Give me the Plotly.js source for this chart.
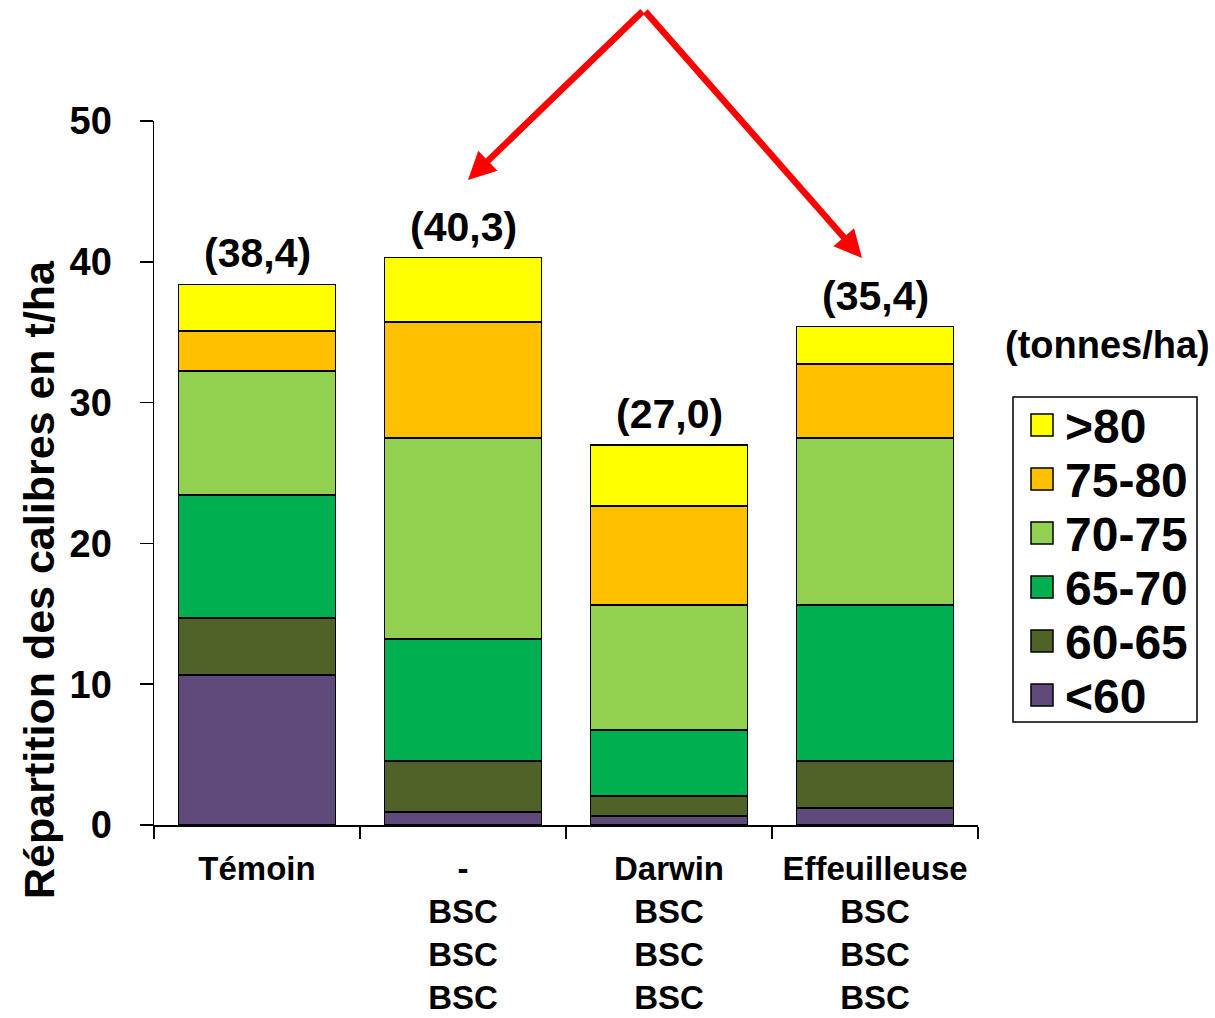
<!DOCTYPE html>
<html>
<head>
<meta charset="utf-8">
<script src="https://cdn.plot.ly/plotly-3.0.1.min.js"></script>
<style>html,body{margin:0;padding:0;background:#fff;}#chart{width:1215px;height:1018px;}</style>
</head>
<body>
<div id="chart"></div>
<script>
// ---- data ----
const categories = ["Témoin", "-<br>BSC<br>BSC<br>BSC", "Darwin<br>BSC<br>BSC<br>BSC", "Effeuilleuse<br>BSC<br>BSC<br>BSC"];
const seriesNames = ["<60", "60-65", "65-70", "70-75", "75-80", ">80"];
const lt60   = [10.65, 0.92, 0.64, 1.21];
const s60_65 = [4.05, 3.62, 1.42, 3.34];
const s65_70 = [8.74, 8.67, 4.69, 11.08];
const s70_75 = [8.80, 14.27, 8.88, 11.86];
const s75_80 = [2.85, 8.24, 7.03, 5.25];
const gt80   = [3.31, 4.58, 4.34, 2.66];
const totals = [38.4, 40.3, 27.0, 35.4];
const yTicks = [0, 10, 20, 30, 40, 50];
const colors = ["#604A7B", "#4F6228", "#00B050", "#92D050", "#FFC000", "#FFFF00"];
const yTitle = "Répartition des calibres en t/ha";
const unitLabel = "(tonnes/ha)";

const seriesValues = [lt60, s60_65, s65_70, s70_75, s75_80, gt80];
const FONT = "Liberation Sans, Arial, Helvetica, sans-serif";

const traces = seriesNames.map((n, i) => ({
  type: "bar",
  name: n,
  x: categories,
  y: seriesValues[i],
  marker: {color: colors[i], line: {color: "#000", width: 1.5}},
  showlegend: false,
  hoverinfo: "y+name"
}));

// plot area geometry (pixels) used to place paper-referenced decorations
const W = 1215, H = 1018;
const M = {l: 154, r: 237, t: 121, b: 193};
const PW = W - M.l - M.r, PH = H - M.t - M.b;
const px = x => (x - M.l) / PW;
const py = y => (H - M.b - y) / PH;

const annotations = [];
// totals above bars
totals.forEach((t, i) => {
  annotations.push({
    x: categories[i], y: t, xref: "x", yref: "y",
    text: "(" + t.toFixed(1).replace(".", ",") + ")",
    showarrow: false, yanchor: "middle", yshift: 31,
    font: {family: FONT, size: 41, color: "#000", weight: "bold"}
  });
});
// y-axis title
annotations.push({
  x: px(39), y: py(580), xref: "paper", yref: "paper",
  text: yTitle, textangle: -90, showarrow: false,
  xanchor: "center", yanchor: "middle",
  font: {family: FONT, size: 43, color: "#000", weight: "bold"}
});
// unit label
annotations.push({
  x: px(1107), y: py(345), xref: "paper", yref: "paper",
  text: unitLabel, showarrow: false, xanchor: "center", yanchor: "middle",
  font: {family: FONT, size: 38, color: "#000", weight: "bold"}
});
// red arrows
const apex = [644, 10];
[[468, 180], [862, 258]].forEach(tip => {
  annotations.push({
    x: px(tip[0]), y: py(tip[1]), xref: "paper", yref: "paper",
    ax: apex[0] - tip[0], ay: apex[1] - tip[1],
    text: "", showarrow: true, arrowhead: 2, arrowsize: 0.85,
    arrowwidth: 6.5, arrowcolor: "#FF0000", standoff: 0
  });
});

// custom legend
const shapes = [{
  type: "rect", xref: "paper", yref: "paper",
  x0: px(1013), x1: px(1197), y0: py(397), y1: py(722),
  line: {color: "#000", width: 1.5}, fillcolor: "rgba(0,0,0,0)"
}];
const order = seriesNames.map((_, i) => seriesNames.length - 1 - i);
order.forEach((si, k) => {
  const cy = 425 + 54 * k;
  shapes.push({
    type: "rect", xref: "paper", yref: "paper",
    x0: px(1031), x1: px(1053), y0: py(cy + 11), y1: py(cy - 11),
    line: {color: "#000", width: 1.5}, fillcolor: colors[si]
  });
  annotations.push({
    x: px(1063), y: py(cy + 1), xref: "paper", yref: "paper",
    text: seriesNames[si].replace("<", "&lt;").replace(">", "&gt;"),
    showarrow: false, xanchor: "left", yanchor: "middle",
    font: {family: FONT, size: 48, color: "#000", weight: "bold"}
  });
});

const layout = {
  width: W, height: H,
  margin: M,
  paper_bgcolor: "#fff", plot_bgcolor: "#fff",
  barmode: "stack", bargap: 0.24,
  showlegend: false,
  font: {family: FONT, color: "#000"},
  xaxis: {
    type: "category", range: [-0.5, 3.5],
    showline: true, linecolor: "#000", linewidth: 1.5,
    ticks: "outside", tickson: "boundaries", ticklen: 12, tickwidth: 1.5, tickcolor: "#000",
    showgrid: false, zeroline: false,
    tickfont: {family: FONT, size: 33, color: "#000", weight: "bold"},
    ticklabelstandoff: 14
  },
  yaxis: {
    range: [0, 50], tickvals: yTicks,
    showline: true, linecolor: "#000", linewidth: 1.5,
    ticks: "outside", ticklen: 13, tickwidth: 1.5, tickcolor: "#000",
    showgrid: false, zeroline: false,
    tickfont: {family: FONT, size: 38, color: "#000", weight: "bold"},
    ticklabelstandoff: 20
  },
  annotations: annotations,
  shapes: shapes
};

Plotly.newPlot("chart", traces, layout, {displayModeBar: false, staticPlot: true});
</script>
</body>
</html>
